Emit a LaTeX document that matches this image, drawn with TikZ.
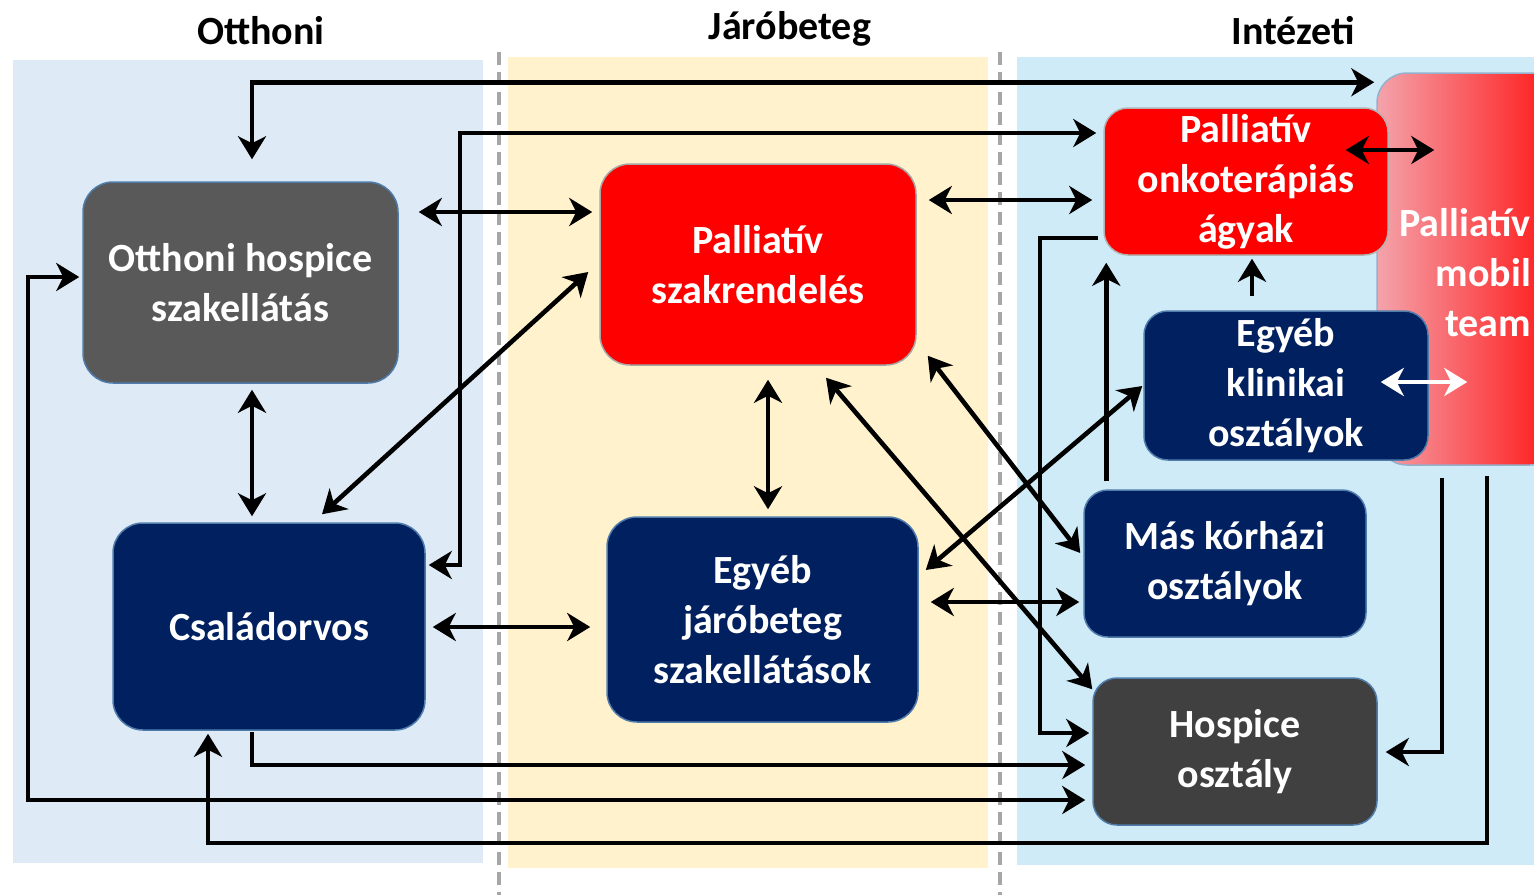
\documentclass[tikz,border=0pt]{standalone}
\usepackage{fontspec}
\setmainfont{Carlito}
\usetikzlibrary{arrows.meta,calc}
\definecolor{bgL}{HTML}{DEEBF7}
\definecolor{bgM}{HTML}{FFF2CC}
\definecolor{bgR}{HTML}{CFEBF7}
\definecolor{navyc}{HTML}{002060}
\definecolor{grayA}{HTML}{595959}
\definecolor{grayB}{HTML}{404040}
\definecolor{edgec}{HTML}{4F7CAB}
\definecolor{pinkc}{HTML}{F4A3AB}
\definecolor{redR}{HTML}{FF1414}
\definecolor{dashgray}{HTML}{A6A6A6}
\begin{document}
\begin{tikzpicture}[x=1pt,y=-1pt,
  box/.style={rectangle, draw=edgec, line width=1.5pt, text=white, align=center,
    font=\bfseries\fontsize{40}{50}\selectfont, inner sep=0pt},
  bigbox/.style={box, rounded corners=30pt},
  smallbox/.style={box, rounded corners=24pt},
  head/.style={anchor=base, font=\bfseries\fontsize{40}{50}\selectfont, text=black},
  arr/.style={line width=4.6pt, >={Stealth[length=23pt,width=28pt,inset=7pt]}},
  divider/.style={draw=dashgray, line width=4pt, dash pattern=on 13pt off 7pt}
]
\useasboundingbox (0,0) rectangle (1534,895);
\clip (0,0) rectangle (1534,895);

% panels
\fill[bgL] (13,60) rectangle (483,863);
\fill[bgM] (508,57) rectangle (988,868);
\fill[bgR] (1017,57) rectangle (1540,865);
\draw[divider] (499,52) -- (499,895);
\draw[divider] (1000,52) -- (1000,895);

% headers
\node[head] (h1) at (261,44) {Otthoni};
\node[head] (h2) at (790,39) {Járóbeteg};
\node[head] (h3) at (1293,44) {Intézeti};

% mobil team (behind)
\node[rectangle, rounded corners=30pt, draw=edgec!60, line width=1.5pt,
  left color=pinkc, right color=redR, minimum width=183pt, minimum height=392pt,
  inner sep=0pt] (mob) at (1468.5,269) {};

% boxes
\node[bigbox, fill=grayA, minimum width=315pt, minimum height=201pt] (ohs) at (240.5,282.5) {Otthoni hospice\\szakellátás};
\node[bigbox, fill=navyc, minimum width=312pt, minimum height=207pt] (csal) at (269,626.5) {Családorvos};
\node[bigbox, fill=red, draw=gray!70, minimum width=316pt, minimum height=201pt] (psz) at (758,264.5) {Palliatív\\szakrendelés};
\node[bigbox, fill=navyc, minimum width=311pt, minimum height=205pt] (ejs) at (762.5,619.5) {Egyéb\\járóbeteg\\szakellátások};
\node[smallbox, fill=red, draw=gray!60, minimum width=284pt, minimum height=147pt] (onko) at (1246,181.5) {Palliatív\\onkoterápiás\\ágyak};
\node[smallbox, fill=navyc, minimum width=284pt, minimum height=149pt] (ekl) at (1286,385.5) {Egyéb\\klinikai\\osztályok};
\node[smallbox, fill=navyc, minimum width=282pt, minimum height=147pt] (mko) at (1225,563.5) {Más kórházi\\osztályok};
\node[smallbox, fill=grayB, minimum width=284pt, minimum height=147pt] (hosp) at (1235,751.5) {Hospice\\osztály};

\node[text=white, align=right, anchor=east, inner sep=0pt, font=\bfseries\fontsize{40}{50}\selectfont] (mobt) at (1531,273) {Palliatív\\mobil\\team};

% connectors
\draw[arr,<->] ($(ohs.north)+(11.5,-22)$) |- ($(mob.north west)+(-2,10)$);
\draw[arr,<->] ($(csal.east)+(3,-61.5)$) -| (460,133) -- ($(onko.west)+(-7,-48.5)$);
\draw[arr,<->] ($(ohs.east)+(20,-70.5)$) -- ($(psz.west)+(-7,-52.5)$);
\draw[arr,<->] ($(psz.east)+(12,-64.5)$) -- ($(onko.west)+(-11,18.5)$);
\draw[arr,<->] ($(ohs.south)+(11.5,6)$) -- ($(csal.north)+(-17,-6)$);
\draw[arr,<->] ($(csal.north)+(53,-8)$) -- ($(psz.west)+(-11,7.5)$);
\draw[arr,<->] ($(csal.east)+(7,0.5)$) -- ($(ejs.west)+(-16,7.5)$);
\draw[arr,<->] ($(psz.south)+(10,14)$) -- ($(ejs.north)+(5.5,-7)$);
\draw[arr,<->] ($(psz.south)+(68,12)$) -- ($(hosp.north west)+(0,12)$);
\draw[arr,<->] ($(psz.south east)+(11,-10)$) -- ($(mko.west)+(-3,-10.5)$);
\draw[arr,<->] ($(ejs.east)+(7,-49.5)$) -- ($(ekl.west)+(-1,0.5)$);
\draw[arr,<->] ($(ejs.east)+(12,-17.5)$) -- ($(mko.west)+(-4,38.5)$);
\draw[arr,->] ($(onko.west)+(-5,56.5)$) -| (1040,733) -- ($(hosp.west)+(-3,-18.5)$);
\draw[arr,->] ($(mko.north west)+(23,-8)$) -- ($(onko.south west)+(3,7)$);
\draw[arr,->] ($(ekl.north)+(-34,-14)$) -- ($(onko.south)+(6,3)$);
\draw[arr,<->] ($(onko.east)+(-43,-31.5)$) -- ($(mob.west)+(58,-119)$);
\draw[arr,<->,white] ($(ekl.east)+(-48,-3.5)$) -- ($(mob.west)+(91,113)$);
\draw[arr,->] ($(mob.south)+(-26.5,12)$) |- ($(hosp.east)+(8,0.5)$);
\draw[arr,->] ($(mob.south)+(18.5,10)$) |- (208,843) -- ($(csal.south)+(-61,3)$);
\draw[arr,->] ($(csal.south)+(-17,1)$) |- ($(hosp.west)+(-7,13.5)$);
\draw[arr,<->] ($(ohs.west)+(-3,-5.5)$) -| (28,800) -- ($(hosp.west)+(-7,48.5)$);
\end{tikzpicture}
\end{document}
